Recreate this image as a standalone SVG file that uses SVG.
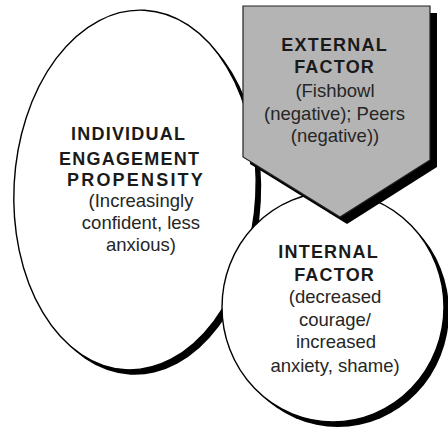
<svg xmlns="http://www.w3.org/2000/svg" width="448" height="430" viewBox="0 0 448 430">
<style>
.sh{fill:#000}
.shape{fill:#fff;stroke:#000;stroke-width:1.4}
.gray{fill:#b4b4b4;stroke:#222;stroke-width:1.2}
.h{font-family:"Liberation Sans",Arial,sans-serif;font-weight:bold;font-size:18px;fill:#1a1a1a;text-anchor:middle;letter-spacing:1.2px}
.t{font-family:"Liberation Sans",Arial,sans-serif;font-size:18.5px;fill:#262626;text-anchor:middle}
</style>
<rect width="448" height="430" fill="#fff"/>
<g id="individual">
<ellipse class="sh" cx="140" cy="195" rx="121" ry="180" transform="rotate(3 140 195)"/>
<ellipse class="shape" cx="135" cy="190" rx="121" ry="180" transform="rotate(3 135 190)"/>
<text class="h" x="128.6" y="140">INDIVIDUAL</text>
<text class="h" x="129.6" y="164.5">ENGAGEMENT</text>
<text class="h" x="136" y="186" style="letter-spacing:2.2px">PROPENSITY</text>
<text class="t" x="141" y="207">(Increasingly</text>
<text class="t" x="141" y="229">confident, less</text>
<text class="t" x="141" y="251">anxious)</text>
</g>
<g id="internal">
<ellipse class="sh" cx="338" cy="312" rx="111" ry="115"/>
<ellipse class="shape" cx="333" cy="307" rx="111" ry="115"/>
<text class="h" x="328.6" y="258">INTERNAL</text>
<text class="h" x="334.6" y="280.5">FACTOR</text>
<text class="t" x="335" y="303">(decreased</text>
<text class="t" x="335" y="325.5">courage/</text>
<text class="t" x="336" y="348">increased</text>
<text class="t" x="335" y="371.5">anxiety, shame)</text>
</g>
<g id="external">
<polygon class="sh" points="250,13 437,13 437,167 347,224 250,164"/>
<polygon class="gray" points="243,6 430,6 430,160 340,217 243,157"/>
<text class="h" x="334.6" y="50.5">EXTERNAL</text>
<text class="h" x="334.6" y="72.5">FACTOR</text>
<text class="t" x="335" y="96.5">(Fishbowl</text>
<text class="t" x="334.5" y="119.5">(negative); Peers</text>
<text class="t" x="335" y="142">(negative))</text>
</g>
<g id="connectors"/>
</svg>
